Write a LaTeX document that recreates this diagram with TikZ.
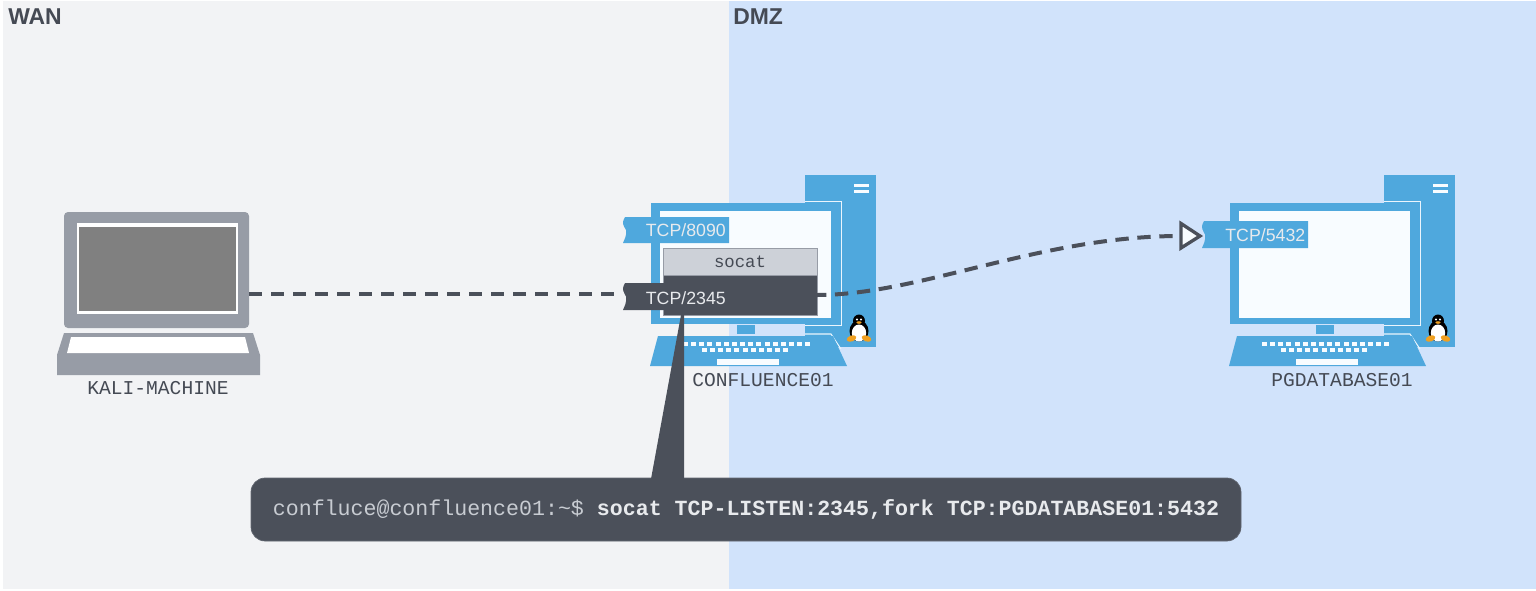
\documentclass[tikz,border=0pt]{standalone}
\usepackage{fontspec}
\setmainfont{Liberation Sans}
\setmonofont{Liberation Mono}
\usetikzlibrary{arrows.meta}
\definecolor{wanbg}{HTML}{F2F3F5}
\definecolor{dmzbg}{HTML}{D1E3FB}
\definecolor{pcblue}{HTML}{4FA8DD}
\definecolor{screenw}{HTML}{F8FCFF}
\definecolor{halo}{HTML}{EAF5FD}
\definecolor{darkb}{HTML}{4B505A}
\definecolor{lightb}{HTML}{CDD1D8}
\definecolor{laptopg}{HTML}{979CA6}
\definecolor{labelc}{HTML}{454A54}
\definecolor{cmdreg}{HTML}{C8CCD2}
\definecolor{cmdbold}{HTML}{E8EAED}
\definecolor{tux}{HTML}{F0A020}
\tikzset{
  px/.style={x=0.75pt,y=-0.75pt},
  zonelabel/.style={font=\bfseries\fontsize{17.2}{20}\selectfont,text=labelc,anchor=west,inner sep=0},
  hostlabel/.style={font=\ttfamily\fontsize{14.7}{17}\selectfont,text=labelc,inner sep=0},
  porttext/.style={font=\fontsize{13.3}{16}\selectfont,text=cmdbold,inner sep=0,anchor=east},
  portnode/.style={minimum width=79.5pt,minimum height=#1,inner sep=0,outer sep=0},
  dashline/.style={draw=darkb,line width=3pt,dash pattern=on 10pt off 6.5pt},
  pcpart/.style={fill=pcblue,draw=none},
  whitepart/.style={fill=screenw,draw=none}
}
\newcommand{\pcshape}[1]{%
 \begin{scope}[shift={(#1,0)}]
  \fill[pcpart] (1384,175) rectangle (1455,347);
  \fill[whitepart] (1433,184) rectangle (1448,186.5);
  \fill[whitepart] (1433,190) rectangle (1448,192.5);
  \draw[halo,line width=0.8pt] (1384,201.5) -- (1420.5,201.5) -- (1420.5,325.5) -- (1384,325.5);
  \fill[pcpart] (1230,203) rectangle (1419,324);
  \fill[whitepart] (1239,211) rectangle (1410,318);
  \fill[pcpart] (1316,325) rectangle (1334,334);
  \draw[halo,line width=0.8pt] (1384,334) -- (1410,334) -- (1420,349);
  \fill[pcpart] (1237,336) -- (1412,336) -- (1426,366) -- (1229,366) -- cycle;
  \foreach \k in {0,...,15} {\fill[whitepart] (1262+\k*8.15,342) rectangle ++(5,4);}
  \foreach \k in {0,...,10} {\fill[whitepart] (1281+\k*8.1,348) rectangle ++(5,4);}
  \fill[whitepart] (1296,359) rectangle (1358,364.5);
  % penguin
  \fill[black] (1438,321) ellipse [x radius=6,y radius=6.5];
  \fill[black] (1438,331) ellipse [x radius=9.5,y radius=10.5];
  \fill[white] (1438,333) ellipse [x radius=7.2,y radius=8.5];
  \fill[white] (1436,319.5) circle (1.2);
  \fill[white] (1440,319.5) circle (1.2);
  \fill[tux] (1438,322.5) ellipse [x radius=2.6,y radius=1.3];
  \fill[tux,rotate around={20:(1430.5,338.5)}] (1430.5,338.5) ellipse [x radius=5,y radius=3];
  \fill[tux,rotate around={-20:(1445.5,338.5)}] (1445.5,338.5) ellipse [x radius=5,y radius=3];
 \end{scope}}
\newcommand{\portshape}[4]{% x left, x right, y top, y bottom, colour set by scope
  \fill ({#1+2},#3) .. controls ({#1-2},{#3+7}) and ({#1+1},{#3+9}) .. ({#1+3},{0.5*#3+0.5*#4}) .. controls ({#1+4},{#4-7}) and ({#1+1},{#4-3}) .. (#1,#4) -- (#2,#4) -- (#2,#3) -- cycle;}
\begin{document}
\begin{tikzpicture}[px]
\useasboundingbox (0,0) rectangle (1536,590);
\fill[white] (0,0) rectangle (1536,590);
\fill[wanbg] (3,1) rectangle (729,589);
\fill[dmzbg] (729,1) rectangle (1536,589);
\node[zonelabel] (wan) at (8,17) {WAN};
\node[zonelabel] (dmz) at (733,17) {DMZ};

% laptop
\node[fill=laptopg,rounded corners=3pt,minimum width=138.75pt,minimum height=87pt,inner sep=0,outer sep=0] (kali) at (156.5,270) {};
\fill[white] (77,223) rectangle (238,314);
\fill[black!50] (79,227) rectangle (236,311);
\fill[laptopg] (64,333) -- (253,333) -- (260,355) -- (260,375) -- (57,375) -- (57,355) -- cycle;
\fill[white] (71,337) -- (245,337) -- (249,353) -- (67,353) -- cycle;
\node[hostlabel] (kalilabel) at (158,388) {KALI-MACHINE};

% computers
\pcshape{-579}
\pcshape{0}
\node[hostlabel] (conflabel) at (763,380) {CONFLUENCE01};
\node[hostlabel] (pglabel) at (1342,380) {PGDATABASE01};

% ports and socat
\begin{scope}[pcblue]\portshape{623}{729}{217}{243}\end{scope}
\node[portnode=19.5pt] (p8090) at (676,230) {};
\node[porttext] at (726,230) {TCP/8090};
\begin{scope}[pcblue]\portshape{1202}{1308}{221}{248}\end{scope}
\node[portnode=20pt] (p5432) at (1255,234.5) {};
\node[porttext] at (1305.5,235) {TCP/5432};

\node[fill=darkb,draw=laptopg,line width=0.6pt,minimum width=115.5pt,minimum height=30pt,inner sep=0,outer sep=0] (socatbot) at (740,295) {};
\node[fill=lightb,draw=laptopg,line width=0.6pt,minimum width=115.5pt,minimum height=20.25pt,inner sep=0,outer sep=0,font=\ttfamily\fontsize{13}{16}\selectfont,text=labelc] (socattop) at (740,261.5) {socat};

% connectors
\coordinate (p2345west) at (623,294);
\coordinate (p5432tip) at (1180,236);
\draw[dashline] (kali.east |- p2345west) -- (p2345west);
\draw[dashline,dash phase=3pt] (socatbot.east) .. controls (920,295) and (1040,236) .. (p5432tip);
\draw[draw=darkb,fill=screenw,line width=2.5pt,line join=miter] (p5432tip) ++(1,-12.5) -- ++(19,12.5) -- ++(-19,12) -- cycle;

\begin{scope}[darkb]\portshape{623}{700}{283}{310}\end{scope}
\node[portnode=20pt] (p2345) at (661,296.5) {};
\node[porttext] at (726,298) {TCP/2345};

% callout
\node[fill=darkb,draw=laptopg!30!darkb,line width=0.5pt,rounded corners=10.5pt,minimum width=742.5pt,minimum height=47.25pt,inner sep=0,outer sep=0,font=\ttfamily\fontsize{16.2}{19}\selectfont] (cmd) at (746,509.5) {\textcolor{cmdreg}{confluce@confluence01:\textasciitilde\$} \textcolor{cmdbold}{\bfseries socat TCP-LISTEN:2345,fork TCP:PGDATABASE01:5432}};
\fill[darkb] (681,315) -- (684,315) -- (684,479) -- (651,479) -- cycle;
\end{tikzpicture}
\end{document}
